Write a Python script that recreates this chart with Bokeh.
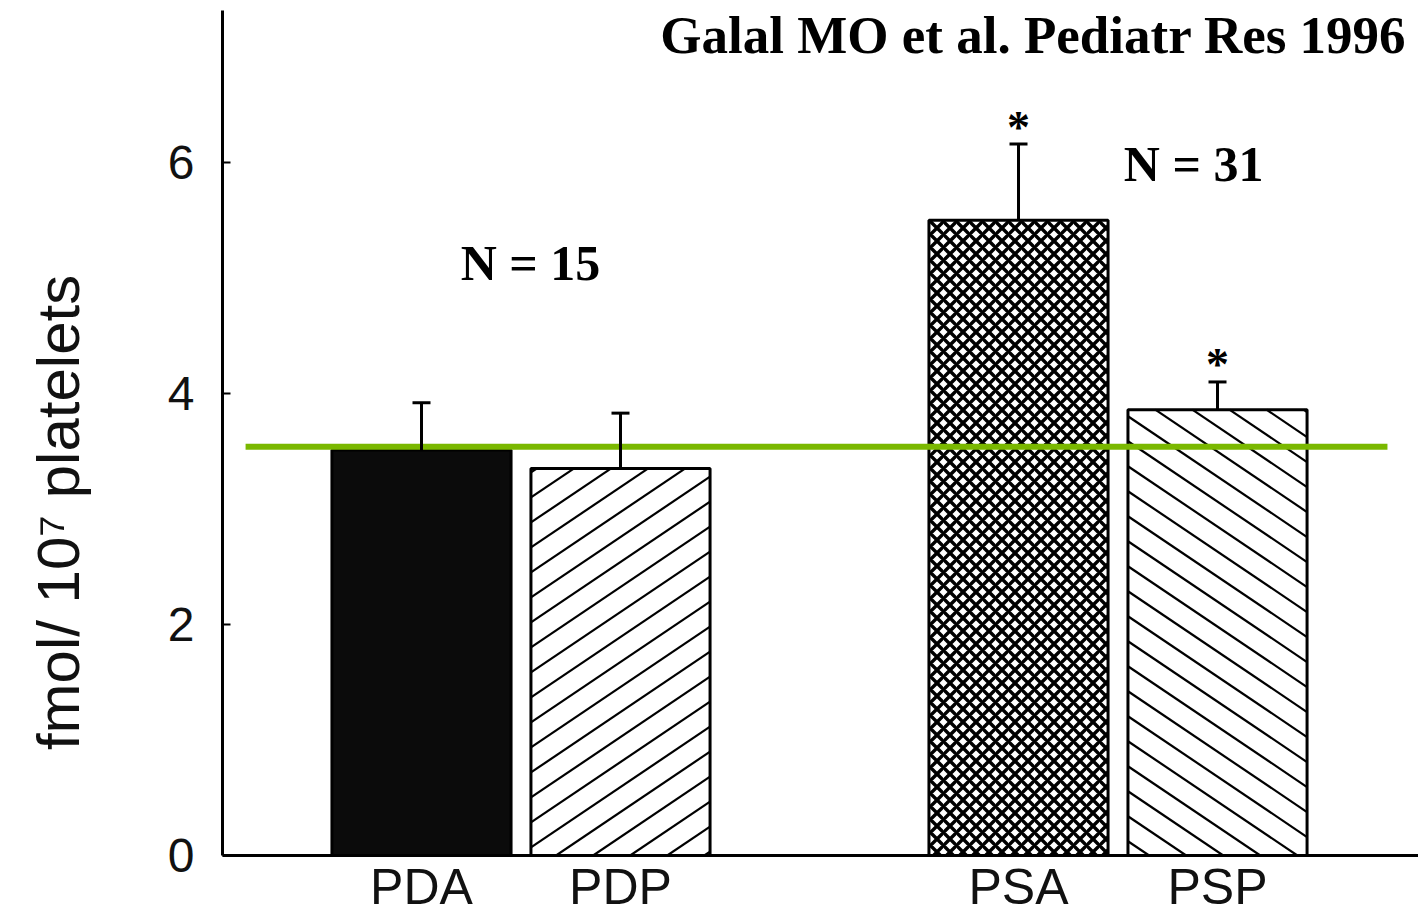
import math
import numpy as np
from bokeh.plotting import figure
from bokeh.layouts import row
from bokeh.models import ColumnDataSource, Whisker, TeeHead, FixedTicker, Range1d
from bokeh.core.properties import value
from bokeh.embed import file_html
from bokeh.resources import INLINE

# ---- data ----
categories = ["PDA", "PDP", "PSA", "PSP"]
means = [3.51, 3.35, 5.50, 3.86]
upper_err = [3.92, 3.83, 6.16, 4.10]
significance = ["", "", "*", "*"]
group_n = ["N = 15", "N = 31"]
reference_level = 3.54
y_ticks = [0, 2, 4, 6]
title_text = "Galal MO et al. Pediatr Res 1996"
y_label = "fmol/ 10\u2077 platelets"

# ---- layout / styling ----
W, H = 1418, 918
LW = 150                           # width of the strip that holds the y-axis title
FL, FT, FB = 222, 10, 63           # frame left (page px), top border, bottom border (px)
X_END, Y_END = 6.01, 7.316
slot = [1, 2, 4, 5]                # bar centres: two pairs with a gap between groups
bar_w = 0.9
fills = ["#0b0b0b", "white", "white", "white"]
bokeh_hatch = [" ", " ", "x", " "]  # library crosshatch for PSA
line_hatch = [0, 1, 0, -1]          # drawn diagonal hatching: +1 "/", -1 "\", 0 none
n_label_x = [1.548, 4.88]
n_label_y = [5.13, 5.99]
title_pos = (2.20, 7.10)
ref_line_x = (0.116, 5.854)
ylabel_pos = (58, 2.97)            # (px within strip, data y)

SX = (W - FL) / X_END              # px per x unit
SY = (H - FT - FB) / Y_END         # px per y unit


def hatch_segments(xc, top, w, direction, spacing=25.0, angle=34.0):
    """Diagonal hatch lines clipped to a bar, computed in pixel space."""
    m = direction * math.tan(math.radians(angle))
    X0, X1, Y1 = (xc - w / 2) * SX, (xc + w / 2) * SX, top * SY
    cs = [y - m * x for x, y in [(X0, 0), (X1, 0), (X0, Y1), (X1, Y1)]]
    out = []
    for c in np.arange(math.ceil(min(cs) / spacing) * spacing, max(cs), spacing):
        if m > 0:
            xa, xb = -c / m, (Y1 - c) / m
        else:
            xa, xb = (Y1 - c) / m, -c / m
        xa, xb = max(xa, X0), min(xb, X1)
        if xb - xa > 1:
            out.append((xa / SX, (m * xa + c) / SY, xb / SX, (m * xb + c) / SY))
    return out


src = ColumnDataSource(dict(x=slot, top=means, upper=upper_err, fill=fills,
                            hatch=bokeh_hatch, star=significance, cat=categories))

yr = Range1d(0, Y_END)
p = figure(width=W - LW, height=H, x_range=Range1d(0, X_END), y_range=yr,
           output_backend="svg", toolbar_location=None,
           min_border_left=FL - LW, min_border_right=0, min_border_top=FT, min_border_bottom=FB)
p.outline_line_color = None
p.xgrid.visible = False
p.ygrid.visible = False
p.background_fill_color = "white"
p.border_fill_color = "white"

# bar fills (+ library crosshatch)
p.vbar(x="x", top="top", bottom=0, width=bar_w, source=src,
       fill_color="fill", line_color=None,
       hatch_pattern="hatch", hatch_scale=13, hatch_weight=3.4, hatch_color="black")

# diagonal hatching
segs = []
for xc, top, d in zip(slot, means, line_hatch):
    if d:
        segs += hatch_segments(xc, top, bar_w, d)
if segs:
    x0, y0, x1, y1 = map(list, zip(*segs))
    p.segment(x0=x0, y0=y0, x1=x1, y1=y1, line_color="black", line_width=2.2)

# bar outlines
p.vbar(x="x", top="top", bottom=0, width=bar_w, source=src,
       fill_color=None, line_color="black", line_width=3)

p.add_layout(Whisker(source=src, base="x", lower="top", upper="upper", dimension="height",
                     line_width=3, line_color="black",
                     upper_head=TeeHead(size=18, line_width=3, line_color="black"),
                     lower_head=None, level="annotation"))

p.segment(x0=[ref_line_x[0]], y0=[reference_level], x1=[ref_line_x[1]], y1=[reference_level],
          line_color="#7ab800", line_width=6)

p.text(x="x", y="upper", text="star", source=src, y_offset=-17,
       text_align="center", text_baseline="middle",
       text_font=value("Liberation Serif"), text_font_style="bold",
       text_font_size="46px", text_color="black")

p.text(x=n_label_x, y=n_label_y, text=group_n, text_align="center", text_baseline="middle",
       text_font=value("Liberation Serif"), text_font_style="bold",
       text_font_size="50px", text_color="black")

p.text(x=[title_pos[0]], y=[title_pos[1]], text=[title_text], text_align="left",
       text_baseline="middle", text_font=value("Liberation Serif"), text_font_style="bold",
       text_font_size="53px", text_color="black")

# axes
xa = p.xaxis[0]
xa.ticker = FixedTicker(ticks=slot)
xa.major_label_overrides = {s: c for s, c in zip(slot, categories)}
xa.major_tick_in = 0
xa.major_tick_out = 0
xa.minor_tick_line_color = None
xa.axis_line_width = 3
xa.axis_line_color = "black"
xa.major_label_standoff = 3
xa.major_label_text_font = "Liberation Sans"
xa.major_label_text_font_size = "50px"
xa.major_label_text_color = "#111111"

ya = p.yaxis[0]
ya.ticker = FixedTicker(ticks=y_ticks)
ya.major_tick_in = 8
ya.major_tick_out = 0
ya.major_tick_line_width = 2
ya.minor_tick_line_color = None
ya.axis_line_width = 3
ya.axis_line_color = "black"
ya.major_label_standoff = 28
ya.major_label_text_font = "Liberation Sans"
ya.major_label_text_font_size = "48px"
ya.major_label_text_color = "#111111"

# strip holding the rotated y-axis title
lab = figure(width=LW, height=H, x_range=Range1d(0, LW), y_range=yr,
             output_backend="svg", toolbar_location=None,
             x_axis_location=None, y_axis_location=None,
             min_border_left=0, min_border_right=0, min_border_top=FT, min_border_bottom=FB)
lab.outline_line_color = None
lab.xgrid.visible = False
lab.ygrid.visible = False
lab.background_fill_color = "white"
lab.border_fill_color = "white"
lab.text(x=[ylabel_pos[0]], y=[ylabel_pos[1]], text=[y_label], angle=math.pi / 2,
         text_align="center", text_baseline="middle",
         text_font=value("Liberation Sans"), text_font_size="60px", text_color="#111111")

layout = row(lab, p)
open("out.html", "w").write(file_html(layout, INLINE))
